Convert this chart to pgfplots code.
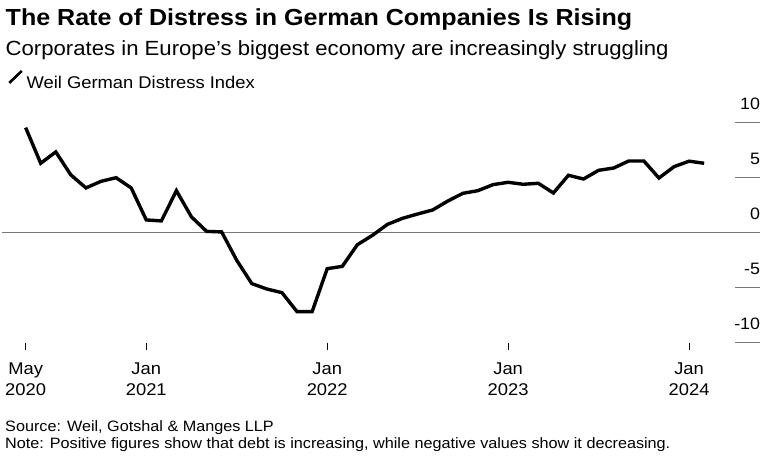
\documentclass[border=0pt]{standalone}
\usepackage{pgfplots}
\pgfplotsset{compat=1.18}
\usepackage{pgfplotstable}
\usepackage{fontspec}
\setmainfont{Liberation Sans}[FakeStretch=1.08]
\definecolor{rulegray}{RGB}{120,120,120}

% Weil German Distress Index, monthly from May 2020 (m = 0)
\pgfplotstableread{
m v
0 9.53
1 6.29
2 7.32
3 5.23
4 4.05
5 4.65
6 4.98
7 4.05
8 1.14
9 1.05
10 3.80
11 1.41
12 0.10
13 0.05
14 -2.53
15 -4.65
16 -5.14
17 -5.47
18 -7.20
19 -7.20
20 -3.29
21 -3.08
22 -1.11
23 -0.26
24 0.74
25 1.29
26 1.68
27 2.05
28 2.86
29 3.56
30 3.80
31 4.35
32 4.56
33 4.38
34 4.47
35 3.59
36 5.20
37 4.86
38 5.65
39 5.86
40 6.50
41 6.50
42 4.95
43 5.98
44 6.48
45 6.29
}\distress

\begin{document}
\begin{tikzpicture}[x=1pt,y=1pt]
\path (0,0) rectangle (777,-472);
\node[anchor=base west, inner sep=0pt, font=\fontsize{23.2}{27}\selectfont\bfseries] at (5.5,-25) {The Rate of Distress in German Companies Is Rising};
\node[anchor=base west, inner sep=0pt, font=\fontsize{20.5}{24}\selectfont] at (5.5,-55.5) {Corporates in Europe's biggest economy are increasingly struggling};
\node[anchor=base west, inner sep=0pt, font=\fontsize{15}{18}\selectfont] at (5,-431.7) {Source: Weil, Gotshal \& Manges LLP};
\node[anchor=base west, inner sep=0pt, font=\fontsize{15}{18}\selectfont] at (5,-448.5) {Note: Positive figures show that debt is increasing, while negative values show it decreasing.};
\begin{axis}[
  at={(1.5,-317.9)}, anchor=south west,
  scale only axis, width=758pt, height=227.3pt,
  xmin=-1.55, xmax=48.72, ymin=-10.66, ymax=10,
  axis line style={draw=none},
  tick align=inside,
  xtick={0,8,20,32,44},
  xticklabels={May\\2020, Jan\\2021, Jan\\2022, Jan\\2023, Jan\\2024},
  xtick pos=bottom,
  x tick style={black, line width=0.9pt, /pgfplots/major tick length=6.3pt},
  xticklabel style={align=center, anchor=north, inner sep=0pt, yshift=-12.5pt,
    font=\fontsize{17}{21.7}\selectfont},
  ytick={-10,-5,0,5,10},
  ytick pos=right,
  yticklabel pos=right,
  y tick style={rulegray, line width=1.3pt, /pgfplots/major tick length=25pt},
  yticklabel style={anchor=south east, inner sep=0pt, yshift=12.5pt,
    font=\fontsize{16.5}{20}\selectfont},
  /pgf/number format/assume math mode=true,
  extra y ticks={0},
  extra y tick labels={},
  extra y tick style={grid=major, major grid style={rulegray, line width=1pt}},
  legend style={at={(axis description cs:0,1)}, anchor=south west,
    xshift=5.5pt, yshift=32.4pt, draw=none, fill=none, inner sep=0pt,
    font=\fontsize{17}{20}\selectfont,
    nodes={inner sep=0pt},
    /tikz/every odd column/.style={column sep=3.5pt}},
  legend cell align=left,
  legend image code/.code={\draw[line width=2.6pt, black] (0pt,0pt) -- (12.5pt,12pt);},
]
\addplot[black, line width=3.4pt, line join=miter] table[x=m, y=v] {\distress};
\addlegendentry{Weil German Distress Index}
\end{axis}
\end{tikzpicture}
\end{document}
